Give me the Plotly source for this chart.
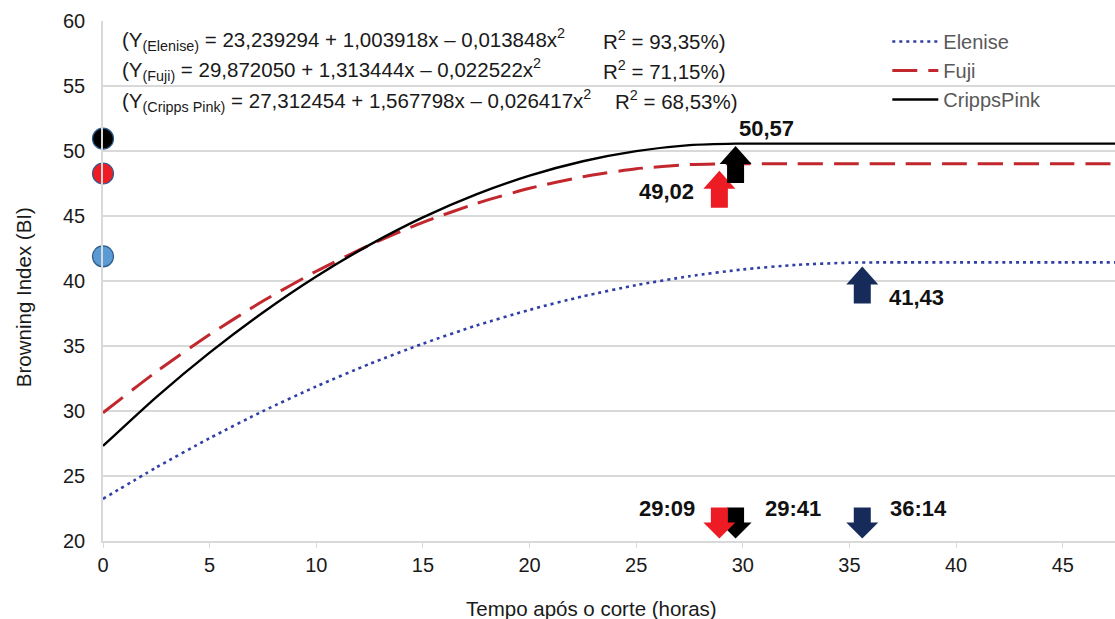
import plotly.graph_objects as go

# ---------------- data ----------------
hours = [0, 2.5, 5, 7.5, 10, 12.5, 15, 17.5, 20, 22.5, 25, 27.5]

elenise_x = hours + [30, 32.5, 35, 36.25, 37.5, 40, 42.5, 45, 47.5]
elenise_y = [23.24, 25.66, 27.91, 29.99, 31.89, 33.62, 35.18, 36.57, 37.78, 38.82, 39.68, 40.37,
             40.89, 41.24, 41.41, 41.43, 41.43, 41.43, 41.43, 41.43, 41.43]

fuji_x = hours + [29.16, 30, 32.5, 35, 37.5, 40, 42.5, 45, 47.5]
fuji_y = [29.87, 33.02, 35.88, 38.46, 40.75, 42.77, 44.51, 45.96, 47.13, 48.02, 48.63, 48.96,
          49.02, 49.02, 49.02, 49.02, 49.02, 49.02, 49.02, 49.02, 49.02]

cripps_x = hours + [29.67, 30, 32.5, 35, 37.5, 40, 42.5, 45, 47.5]
cripps_y = [27.31, 31.07, 34.49, 37.58, 40.35, 42.78, 44.89, 46.66, 48.10, 49.21, 49.99, 50.45,
            50.57, 50.57, 50.57, 50.57, 50.57, 50.57, 50.57, 50.57, 50.57]

series_names = ["Elenise", "Fuji", "CrippsPink"]
observed_at_zero = [41.9, 48.27, 50.95]          # circles at x = 0
peak_values = [41.43, 49.02, 50.57]
peak_labels = ["41,43", "49,02", "50,57"]
peak_hours = [35.6, 28.9, 29.66]                  # where the arrows sit
time_labels = ["36:14", "29:09", "29:41"]

equations = [
    "(Y<sub>(Elenise)</sub> = 23,239294 + 1,003918x – 0,013848x<sup>2</sup>",
    "(Y<sub>(Fuji)</sub> = 29,872050 + 1,313444x – 0,022522x<sup>2</sup>",
    "(Y<sub>(Cripps Pink)</sub> = 27,312454 + 1,567798x – 0,026417x<sup>2</sup>",
]
r2_texts = ["R<sup>2</sup> = 93,35%)", "R<sup>2</sup> = 71,15%)", "R<sup>2</sup> = 68,53%)"]

x_ticks = [0, 5, 10, 15, 20, 25, 30, 35, 40, 45]
y_ticks = [20, 25, 30, 35, 40, 45, 50, 55, 60]

# ---------------- styles ----------------
FONT = "Liberation Sans, Arial, sans-serif"
line_colors = ["#2F3FA6", "#C1272D", "#000000"]
line_dash = ["3px,4px", "25px,11px", "solid"]
line_width = [2.6, 3, 2.4]
marker_colors = ["#5B9BD5", "#EE1C25", "#000000"]
arrow_colors = ["#172B5A", "#ED1C24", "#000000"]

fig = go.Figure()
for name, xs, ys, c, d, w in zip(series_names, [elenise_x, fuji_x, cripps_x],
                                 [elenise_y, fuji_y, cripps_y], line_colors, line_dash, line_width):
    fig.add_trace(go.Scatter(x=xs, y=ys, mode="lines", name=name,
                             line=dict(color=c, dash=d, width=w, shape="spline", smoothing=0.6)))

for v, c in zip(observed_at_zero, marker_colors):
    fig.add_trace(go.Scatter(x=[0], y=[v], mode="markers", showlegend=False, cliponaxis=False,
                             marker=dict(size=21, color=c, line=dict(color="#2E5C8A", width=1.2))))

# block arrows (pixel-sized, anchored to data)
def up_arrow(off):
    hw, hh, sw, th = 16, 18, 8.5, 37
    return (f"M0,{-off} L{hw},{-off-hh} L{sw},{-off-hh} L{sw},{-off-th} "
            f"L{-sw},{-off-th} L{-sw},{-off-hh} L{-hw},{-off-hh} Z")

def down_arrow(off):
    hw, hh, sw, th = 16, 16, 8.5, 31
    return (f"M0,{off} L{hw},{off+hh} L{sw},{off+hh} L{sw},{off+th} "
            f"L{-sw},{off+th} L{-sw},{off+hh} L{-hw},{off+hh} Z")

up_offsets = [4, 7, 2.5]
shapes = []
for i in range(3):
    shapes.append(dict(type="path", xref="x", yref="y", xsizemode="pixel", ysizemode="pixel",
                       xanchor=peak_hours[i], yanchor=peak_values[i], path=up_arrow(up_offsets[i]),
                       fillcolor=arrow_colors[i], line=dict(width=0)))
for i in [0, 2, 1]:
    shapes.append(dict(type="path", xref="x", yref="y", xsizemode="pixel", ysizemode="pixel",
                       xanchor=peak_hours[i], yanchor=y_ticks[0], path=down_arrow(2.5),
                       fillcolor=arrow_colors[i], line=dict(width=0)))

annotations = []
peak_shift = [(54, -35), (-53, -28), (31, 15)]
time_shift = [56, -52, 57]
for i in range(3):
    annotations.append(dict(x=peak_hours[i], y=peak_values[i], xref="x", yref="y", text=f"<b>{peak_labels[i]}</b>",
                            showarrow=False, xshift=peak_shift[i][0], yshift=peak_shift[i][1],
                            font=dict(family=FONT, size=22, color="#111111")))
    annotations.append(dict(x=peak_hours[i], y=y_ticks[0], xref="x", yref="y", text=f"<b>{time_labels[i]}</b>",
                            showarrow=False, xshift=time_shift[i], yshift=32.5,
                            font=dict(family=FONT, size=22, color="#111111")))

eq_rows = [0.9635, 0.906, 0.848]
r2_x = [0.492, 0.492, 0.504]
for i in range(3):
    annotations.append(dict(x=0.0168, y=eq_rows[i], xref="paper", yref="paper", text=equations[i],
                            showarrow=False, xanchor="left", yanchor="middle",
                            font=dict(family=FONT, size=20.5, color="#1a1a1a")))
    annotations.append(dict(x=r2_x[i], y=eq_rows[i], xref="paper", yref="paper", text=r2_texts[i],
                            showarrow=False, xanchor="left", yanchor="middle",
                            font=dict(family=FONT, size=20.5, color="#1a1a1a")))

annotations.append(dict(x=0.4825, y=-0.129, xref="paper", yref="paper", text="Tempo após o corte (horas)",
                        showarrow=False, xanchor="center", yanchor="middle",
                        font=dict(family=FONT, size=20.5, color="#1a1a1a")))
annotations.append(dict(x=-0.079, y=0.469, xref="paper", yref="paper", text="Browning Index (BI)",
                        showarrow=False, textangle=-90, xanchor="center", yanchor="middle",
                        font=dict(family=FONT, size=20.5, color="#1a1a1a")))

fig.update_layout(
    width=1115, height=619,
    margin=dict(l=103, r=0, t=21, b=78),
    paper_bgcolor="white", plot_bgcolor="white",
    font=dict(family=FONT, size=20, color="#1a1a1a"),
    shapes=shapes, annotations=annotations,
    legend=dict(x=0.775, y=0.998, xanchor="left", yanchor="top", bgcolor="rgba(0,0,0,0)",
                font=dict(family=FONT, size=20, color="#595959"), itemwidth=46),
    xaxis=dict(range=[0, 47.45], tickvals=x_ticks, showgrid=False, zeroline=False,
               showline=True, linecolor="#D9D9D9", linewidth=1.5, ticks="outside", ticklen=5,
               tickcolor="#D9D9D9", tickfont=dict(family=FONT, size=20, color="#1a1a1a")),
    yaxis=dict(range=[20, 60], tickvals=y_ticks, showgrid=True, gridcolor="#D9D9D9", gridwidth=1.5,
               zeroline=False, showline=True, linecolor="#D9D9D9", linewidth=1.5, ticks="",
               ticklabelstandoff=12, tickfont=dict(family=FONT, size=20, color="#1a1a1a")),
)

fig.write_html("out.html")
